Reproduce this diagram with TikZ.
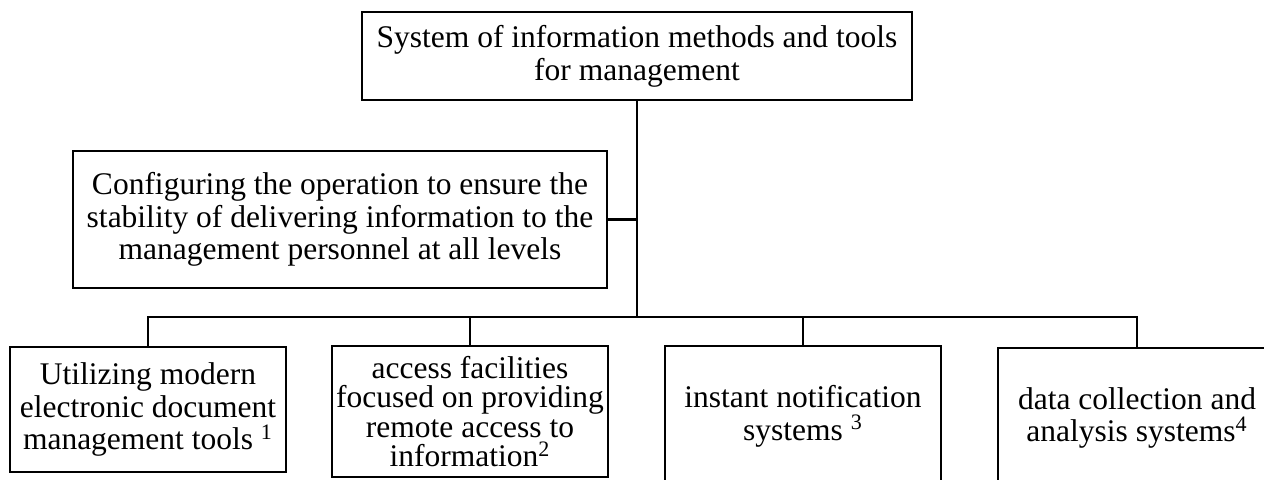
\documentclass[tikz,border=0pt]{standalone}
\usepackage{fontspec}
\setmainfont{Liberation Serif}
\begin{document}
\begin{tikzpicture}[x=0.5pt,y=-0.5pt,
  box/.style={draw,line width=1.3pt,rectangle,align=center,inner sep=0pt,
    font=\fontsize{15.75}{16.3}\selectfont},
  tight/.style={font=\fontsize{15.75}{14.8}\selectfont},
  conn/.style={line width=1.3pt}]
\useasboundingbox (0,0) rectangle (1264,479);
\node[box,minimum width=275pt,minimum height=44pt] (top) at (637,56)
  {System of information methods and tools\\for management};
\node[box,minimum width=267pt,minimum height=68.5pt] (mid) at (340,219.5)
  {Configuring the operation to ensure the\\stability of delivering information to the\\management personnel at all levels};
\node[box,minimum width=138pt,minimum height=62.5pt] (b1) at (148,409.5)
  {Utilizing modern\\electronic document\\management tools \textsuperscript{1}};
\node[box,tight,minimum width=138pt,minimum height=65.5pt] (b2) at (470,411.5)
  {access facilities\\focused on providing\\remote access to\\information\textsuperscript{2}};
\node[box,minimum width=138pt,minimum height=70pt] (b3) at (803,416)
  {instant notification\\systems \textsuperscript{3}};
\node[box,minimum width=139pt,minimum height=70pt] (b4) at (1137,418)
  {data collection and\\analysis systems\textsuperscript{4}};
\coordinate (j) at (637,317);
\draw[conn] (top.south) -- (j);
\draw[conn] (mid.east) -- (mid.east -| j);
\draw[conn] (b1.north) |- (j) -| (b4.north);
\draw[conn] (b2.north) -- (b2.north |- j);
\draw[conn] (b3.north) -- (b3.north |- j);
\end{tikzpicture}
\end{document}
